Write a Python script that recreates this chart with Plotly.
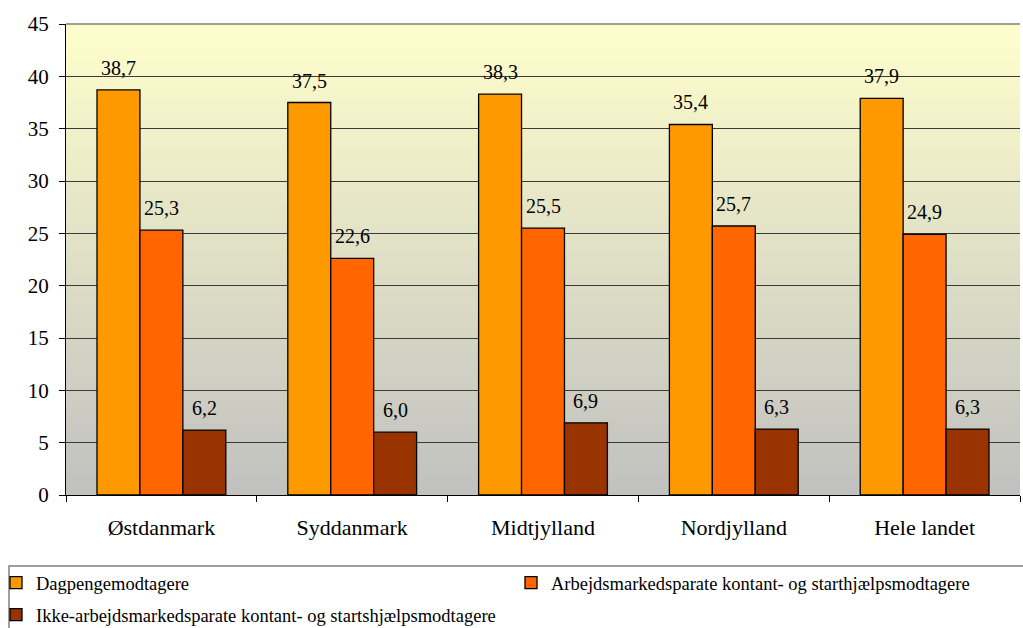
import plotly.graph_objects as go

regions = ["Østdanmark", "Syddanmark", "Midtjylland", "Nordjylland", "Hele landet"]
series_names = [
    "Dagpengemodtagere",
    "Arbejdsmarkedsparate kontant- og starthjælpsmodtagere",
    "Ikke-arbejdsmarkedsparate kontant- og startshjælpsmodtagere",
]
dagpenge = [38.7, 37.5, 38.3, 35.4, 37.9]
arbejdsmarkedsparate = [25.3, 22.6, 25.5, 25.7, 24.9]
ikke_arbejdsmarkedsparate = [6.2, 6.0, 6.9, 6.3, 6.3]
y_ticks = [0, 5, 10, 15, 20, 25, 30, 35, 40, 45]

series_values = [dagpenge, arbejdsmarkedsparate, ikke_arbejdsmarkedsparate]
colors = ["#FF9900", "#FF6600", "#993300"]
legend_ids = ["legend", "legend3", "legend2"]
FONT = "Liberation Serif"

W, H = 1023, 628
ML, MR, MT, MB = 66, 3, 24, 133
plot_w = W - ML - MR
plot_h = H - MT - MB

fig = go.Figure()
for name, vals, col, lg in zip(series_names, series_values, colors, legend_ids):
    fig.add_trace(go.Bar(
        x=regions, y=vals, name=name, legend=lg,
        marker=dict(color=col, line=dict(color="#000000", width=1.3)),
    ))

# value labels above each bar
bar_px = plot_w / len(regions) * (1 - 0.325) / 3
for i, vals in enumerate(series_values):
    for r, v in zip(regions, vals):
        fig.add_annotation(
            x=r, y=v, text=f"{v:.1f}".replace(".", ","),
            xshift=(i - 1) * bar_px, yshift=9, yanchor="bottom",
            showarrow=False, font=dict(family=FONT, size=20, color="#000000"),
        )

# vertical gradient background of the plot area
top_rgb = (255, 255, 204)
bot_rgb = (192, 192, 192)
n_strips = 60
for k in range(n_strips):
    t = (k + 0.5) / n_strips
    c = tuple(round(top_rgb[j] + (bot_rgb[j] - top_rgb[j]) * t) for j in range(3))
    fig.add_shape(
        type="rect", xref="paper", yref="paper", layer="below",
        x0=0, x1=1, y0=1 - (k + 1) / n_strips, y1=1 - k / n_strips + 0.002,
        fillcolor="rgb(%d,%d,%d)" % c, line=dict(width=0),
    )

# top border line of the plot area
fig.add_shape(type="line", xref="paper", yref="paper", x0=0, x1=1, y0=1, y1=1,
              line=dict(color="#808080", width=1.5))


def py(pix):
    return (MT + plot_h - pix) / plot_h


def px(pix):
    return (pix - ML) / plot_w


# legend frame
fig.add_shape(type="rect", xref="paper", yref="paper",
              x0=px(9), x1=px(W + 5), y0=py(H + 5), y1=py(566),
              line=dict(color="#808080", width=1.5), fillcolor="rgba(0,0,0,0)")

legend_common = dict(
    orientation="h", xanchor="left", yanchor="middle",
    font=dict(family=FONT, size=18.5, color="#000000"),
    bgcolor="rgba(0,0,0,0)", borderwidth=0,
)

fig.update_layout(
    width=W, height=H,
    margin=dict(l=ML, r=MR, t=MT, b=MB, autoexpand=False),
    paper_bgcolor="#FFFFFF",
    plot_bgcolor="rgba(0,0,0,0)",
    barmode="group", bargap=0.325, bargroupgap=0,
    font=dict(family=FONT, color="#000000"),
    showlegend=True,
    legend=dict(x=px(-4), y=py(583), **legend_common),
    legend3=dict(x=px(511), y=py(583), **legend_common),
    legend2=dict(x=px(-4), y=py(615), **legend_common),
    xaxis=dict(
        type="category", showgrid=False, showline=True, linecolor="#000000", linewidth=1,
        ticks="outside", tickson="boundaries", ticklen=6, tickcolor="#000000",
        tickfont=dict(family=FONT, size=22, color="#000000"), ticklabelstandoff=13,
    ),
    yaxis=dict(
        range=[0, 45], tickvals=y_ticks, showgrid=True, gridcolor="#3A3A3A", gridwidth=1,
        showline=True, linecolor="#000000", linewidth=1, zeroline=False,
        ticks="outside", ticklen=6, tickcolor="#000000",
        tickfont=dict(family=FONT, size=21, color="#000000"), ticklabelstandoff=6,
    ),
)

fig.write_html("out.html")
